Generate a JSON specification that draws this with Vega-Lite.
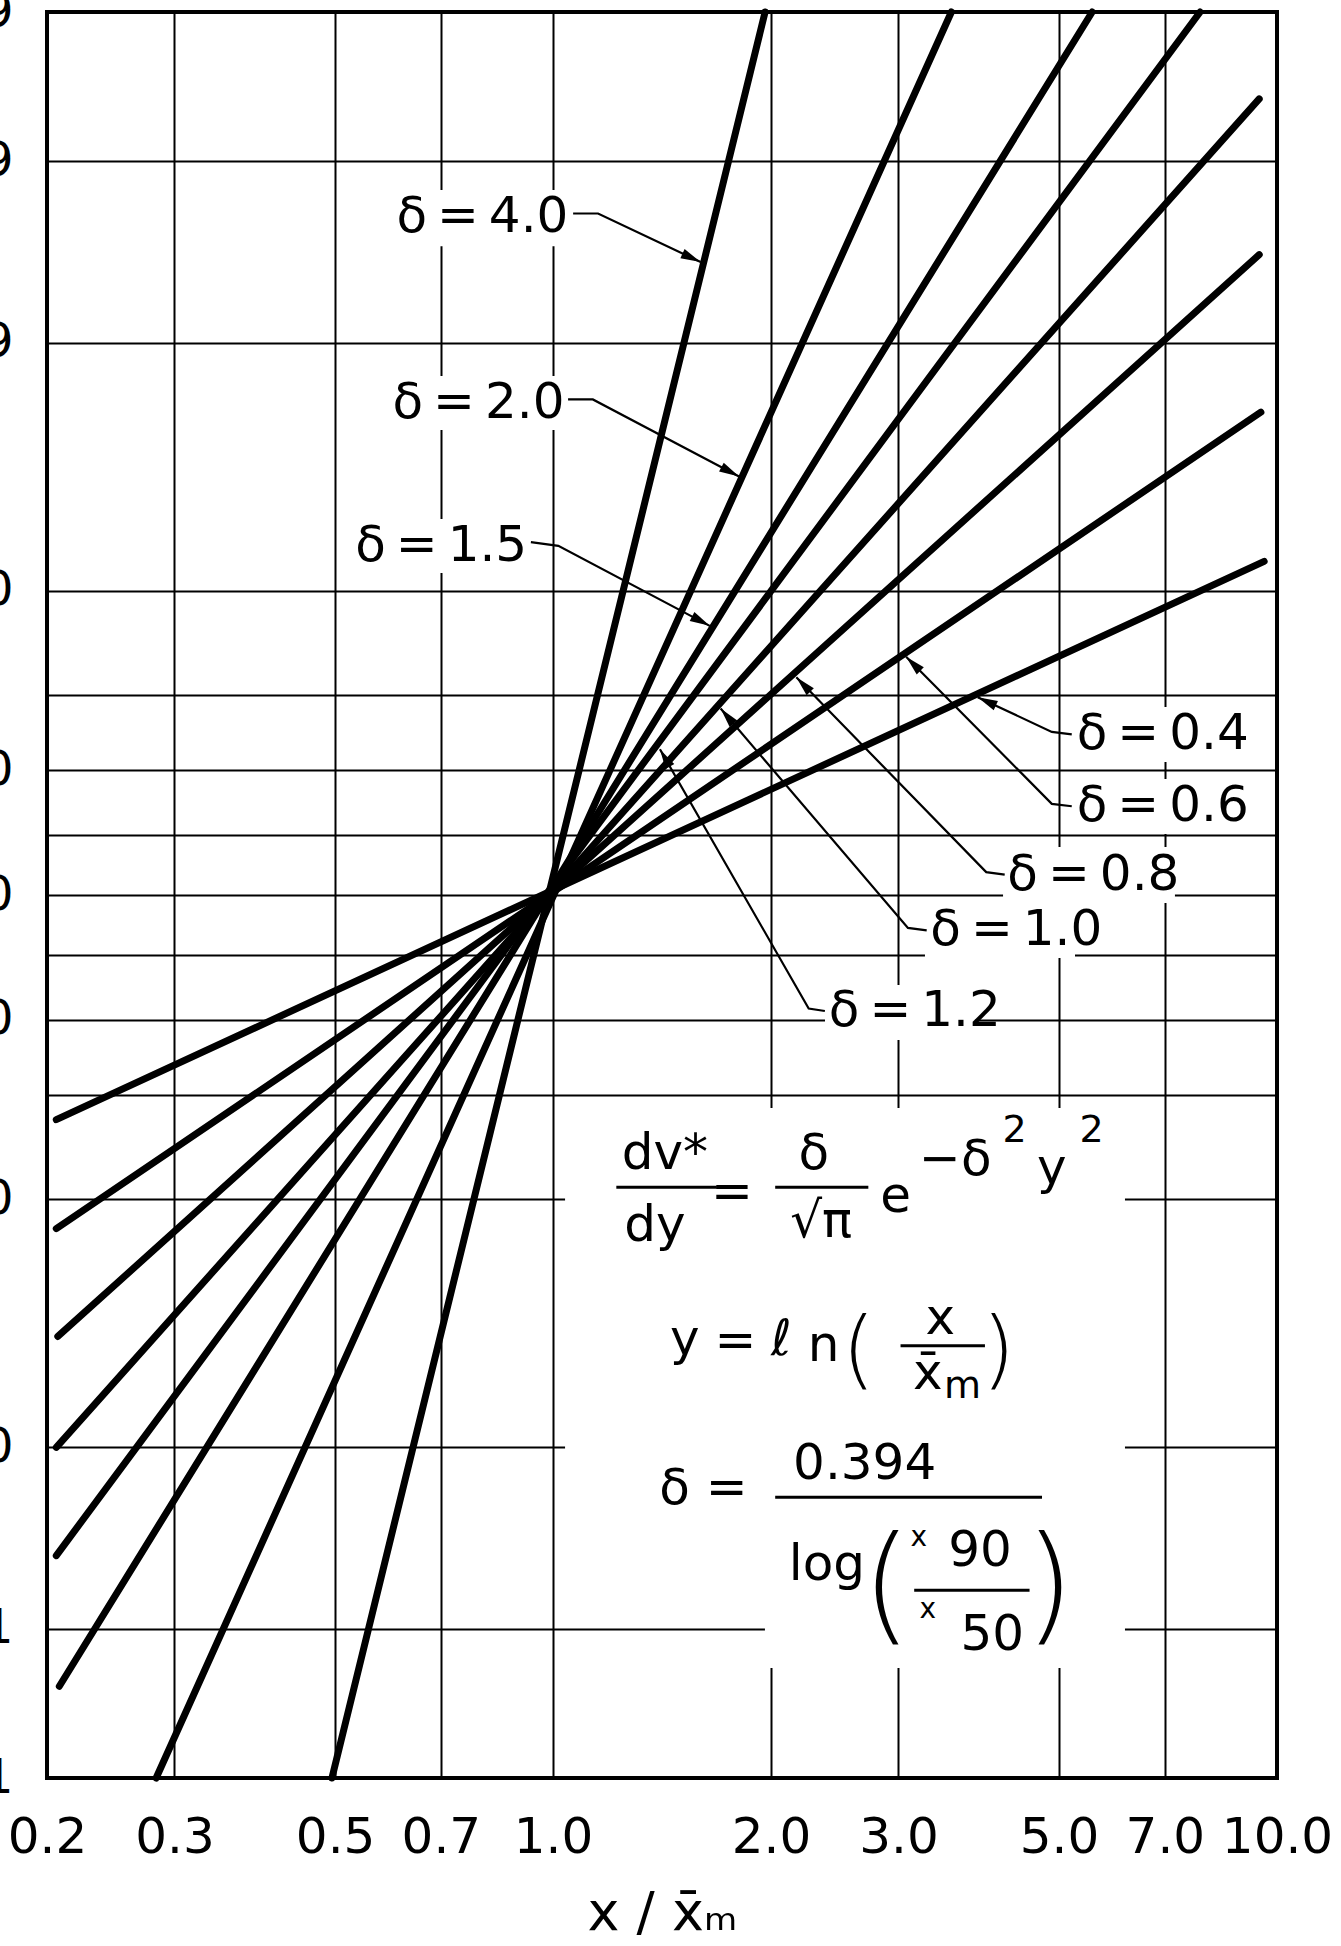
{
  "$schema": "https://vega.github.io/schema/vega-lite/v6.json",
  "width": 1230,
  "height": 1766,
  "autosize": {"type": "none"},
  "padding": {"left": 47, "top": 12, "right": 64, "bottom": 168},
  "background": "white",
  "config": {
    "view": {"stroke": "black", "strokeWidth": 4},
    "font": "DejaVu Sans",
    "text": {"font": "DejaVu Sans", "color": "black"}
  },
  "data": {
    "values": [
      {"kind": "mask", "x": 0.595, "x2": 1.056, "v": 99.851, "v2": 99.686},
      {"kind": "mask", "x": 0.595, "x2": 1.042, "v": 98.558, "v2": 97.49},
      {"kind": "mask", "x": 0.595, "x2": 0.929, "v": 94.334, "v2": 91.25},
      {"kind": "mask", "x": 5.21, "x2": 9.18, "v": 78.57, "v2": 71.23},
      {"kind": "mask", "x": 5.21, "x2": 9.18, "v": 68.74, "v2": 60.14},
      {"kind": "mask", "x": 4.184, "x2": 7.228, "v": 58.01, "v2": 48.66},
      {"kind": "mask", "x": 3.264, "x2": 5.26, "v": 48.66, "v2": 39.54},
      {"kind": "mask", "x": 2.375, "x2": 3.826, "v": 35.23, "v2": 27.07},
      {"kind": "mask", "x": 1.039, "x2": 6.166, "v": 18.49, "v2": 0.867},
      {"kind": "mask", "x": 1.962, "x2": 6.166, "v": 0.867, "v2": 0.0566},

      {"kind": "d", "g": "0.4", "x": 0.206, "v": 17.2},
      {"kind": "d", "g": "0.4", "x": 9.6, "v": 92.0},
      {"kind": "d", "g": "0.6", "x": 0.206, "v": 8.0},
      {"kind": "d", "g": "0.6", "x": 9.5, "v": 97.9},
      {"kind": "d", "g": "0.8", "x": 0.207, "v": 3.15},
      {"kind": "d", "g": "0.8", "x": 9.45, "v": 99.65},
      {"kind": "d", "g": "1.0", "x": 0.206, "v": 1.0},
      {"kind": "d", "g": "1.0", "x": 9.45, "v": 99.96},
      {"kind": "d", "g": "1.2", "x": 0.206, "v": 0.27},
      {"kind": "d", "g": "1.2", "x": 7.83, "v": 99.99},
      {"kind": "d", "g": "1.5", "x": 0.208, "v": 0.043},
      {"kind": "d", "g": "1.5", "x": 5.555, "v": 99.99},
      {"kind": "d", "g": "2.0", "x": 0.283, "v": 0.01},
      {"kind": "d", "g": "2.0", "x": 3.55, "v": 99.99},
      {"kind": "d", "g": "4.0", "x": 0.495, "v": 0.01},
      {"kind": "d", "g": "4.0", "x": 1.963, "v": 99.99},

      {"kind": "ldr", "g": "4.0", "s": 0, "x": 1.066, "v": 99.795},
      {"kind": "ldr", "g": "4.0", "s": 1, "x": 1.154, "v": 99.795},
      {"kind": "ldr", "g": "4.0", "s": 2, "x": 1.599, "v": 99.616},
      {"kind": "ldr", "g": "2.0", "s": 0, "x": 1.049, "v": 98.156},
      {"kind": "ldr", "g": "2.0", "s": 1, "x": 1.135, "v": 98.156},
      {"kind": "ldr", "g": "2.0", "s": 2, "x": 1.807, "v": 96.10},
      {"kind": "ldr", "g": "1.5", "s": 0, "x": 0.932, "v": 93.14},
      {"kind": "ldr", "g": "1.5", "s": 1, "x": 1.017, "v": 92.93},
      {"kind": "ldr", "g": "1.5", "s": 2, "x": 1.646, "v": 87.15},
      {"kind": "ldr", "g": "0.4", "s": 0, "x": 5.206, "v": 75.06},
      {"kind": "ldr", "g": "0.4", "s": 1, "x": 4.886, "v": 75.39},
      {"kind": "ldr", "g": "0.4", "s": 2, "x": 3.86, "v": 79.76},
      {"kind": "ldr", "g": "0.6", "s": 0, "x": 5.206, "v": 64.57},
      {"kind": "ldr", "g": "0.6", "s": 1, "x": 4.886, "v": 64.95},
      {"kind": "ldr", "g": "0.6", "s": 2, "x": 3.074, "v": 84.22},
      {"kind": "ldr", "g": "0.8", "s": 0, "x": 4.206, "v": 53.42},
      {"kind": "ldr", "g": "0.8", "s": 1, "x": 3.966, "v": 53.84},
      {"kind": "ldr", "g": "0.8", "s": 2, "x": 2.168, "v": 82.04},
      {"kind": "ldr", "g": "1.0", "s": 0, "x": 3.282, "v": 44.07},
      {"kind": "ldr", "g": "1.0", "s": 1, "x": 3.092, "v": 44.49},
      {"kind": "ldr", "g": "1.0", "s": 2, "x": 1.704, "v": 78.39},
      {"kind": "ldr", "g": "1.2", "s": 0, "x": 2.374, "v": 31.26},
      {"kind": "ldr", "g": "1.2", "s": 1, "x": 2.255, "v": 31.63},
      {"kind": "ldr", "g": "1.2", "s": 2, "x": 1.405, "v": 73.03},

      {"kind": "arr", "g": "4.0", "x": 1.599, "v": 99.616},
      {"kind": "arr", "g": "2.0", "x": 1.807, "v": 96.10},
      {"kind": "arr", "g": "1.5", "x": 1.646, "v": 87.15},
      {"kind": "arr", "g": "0.4", "x": 3.86, "v": 79.76},
      {"kind": "arr", "g": "0.6", "x": 3.074, "v": 84.22},
      {"kind": "arr", "g": "0.8", "x": 2.168, "v": 82.04},
      {"kind": "arr", "g": "1.0", "x": 1.704, "v": 78.39},
      {"kind": "arr", "g": "1.2", "x": 1.405, "v": 73.03},

      {"kind": "labL", "t": "δ\u2009=\u20094.0", "x": 1.050, "v": 99.785},
      {"kind": "labL", "t": "δ\u2009=\u20092.0", "x": 1.037, "v": 98.08},
      {"kind": "labL", "t": "δ\u2009=\u20091.5", "x": 0.921, "v": 92.93},
      {"kind": "labR", "t": "δ\u2009=\u20090.4", "x": 5.29, "v": 75.06},
      {"kind": "labR", "t": "δ\u2009=\u20090.6", "x": 5.29, "v": 64.57},
      {"kind": "labR", "t": "δ\u2009=\u20090.8", "x": 4.242, "v": 53.42},
      {"kind": "labR", "t": "δ\u2009=\u20091.0", "x": 3.32, "v": 44.07},
      {"kind": "labR", "t": "δ\u2009=\u20091.2", "x": 2.404, "v": 31.26},

      {"kind": "bar", "x": 1.223, "x2": 1.684, "v": 10.92},
      {"kind": "bar", "x": 2.027, "x2": 2.726, "v": 10.92},
      {"kind": "bar", "x": 3.020, "x2": 3.950, "v": 2.879},
      {"kind": "bar", "x": 2.027, "x2": 4.736, "v": 0.560},
      {"kind": "bar", "x": 3.154, "x2": 4.552, "v": 0.1704},

      {"kind": "eq", "t": "dv*", "x": 1.427, "v": 13.80},
      {"kind": "eq", "t": "dy", "x": 1.383, "v": 8.19},
      {"kind": "eq", "t": "=", "x": 1.766, "v": 10.44},
      {"kind": "eq", "t": "δ", "x": 2.292, "v": 13.80},
      {"kind": "eq", "t": "√π", "x": 2.346, "v": 8.43},
      {"kind": "eq", "t": "e", "x": 2.972, "v": 10.16},
      {"kind": "eq", "t": "−δ", "x": 3.594, "v": 13.23},
      {"kind": "eq", "t": "y", "x": 4.886, "v": 12.46},
      {"kind": "eq", "t": "y", "x": 1.520, "v": 3.055},
      {"kind": "eq", "t": "=", "x": 1.787, "v": 2.982},
      {"kind": "eq", "t": "ℓ", "x": 2.067, "v": 3.055},
      {"kind": "eq", "t": "n", "x": 2.365, "v": 2.878},
      {"kind": "eq", "t": "x", "x": 3.426, "v": 3.718},
      {"kind": "eq", "t": "x̄", "x": 3.294, "v": 2.173},
      {"kind": "eq", "t": "δ =", "x": 1.613, "v": 0.621},
      {"kind": "eq", "t": "0.394", "x": 2.694, "v": 0.830},
      {"kind": "eq", "t": "log", "x": 2.390, "v": 0.2373},
      {"kind": "eq", "t": "90", "x": 3.888, "v": 0.2881},
      {"kind": "eq", "t": "50", "x": 4.044, "v": 0.0915},
      {"kind": "eqs", "t": "2", "x": 4.342, "v": 15.97},
      {"kind": "eqs", "t": "2", "x": 5.544, "v": 15.97},
      {"kind": "eqs", "t": "m", "x": 3.678, "v": 1.915},
      {"kind": "eqsm", "t": "x", "x": 3.200, "v": 0.3372},
      {"kind": "eqsm", "t": "x", "x": 3.294, "v": 0.1298},
      {"kind": "eqm", "t": "(", "x": 2.642, "v": 2.711},
      {"kind": "eqm", "t": ")", "x": 4.125, "v": 2.711},
      {"kind": "eqp", "t": "(", "x": 2.890, "v": 0.1704},
      {"kind": "eqp", "t": ")", "x": 4.850, "v": 0.1704}
    ]
  },
  "transform": [
    {"calculate": "quantileNormal(datum.v / 100)", "as": "z"},
    {"calculate": "datum.v2 != null ? quantileNormal(datum.v2 / 100) : null", "as": "z2"}
  ],
  "encoding": {
    "x": {
      "field": "x",
      "type": "quantitative",
      "scale": {"type": "log", "domain": [0.2, 10], "nice": false},
      "axis": {
        "values": [0.2, 0.3, 0.5, 0.7, 1, 2, 3, 5, 7, 10],
        "format": ".1f",
        "grid": true,
        "gridColor": "black",
        "gridWidth": 2,
        "gridOpacity": 1,
        "ticks": false,
        "tickSize": 0,
        "domain": false,
        "labelFont": "DejaVu Sans",
        "labelFontSize": 50,
        "labelColor": "black",
        "labelPadding": 34,
        "labelFlush": false,
        "labelOverlap": false,
        "labelBound": false,
        "title": "x / x̄ₘ",
        "titleFont": "DejaVu Sans",
        "titleFontSize": 54,
        "titleFontWeight": "normal",
        "titleColor": "black",
        "titlePadding": 24
      }
    },
    "y": {
      "field": "z",
      "type": "quantitative",
      "scale": {"domain": [-3.719, 3.719], "nice": false, "zero": false},
      "axis": {
        "values": [3.719, 3.0902, 2.3263, 1.2816, 0.8416, 0.5244, 0.2533, 0, -0.2533, -0.5244, -0.8416, -1.2816, -2.3263, -3.0902, -3.719],
        "labelExpr": "datum.value > 3.5 ? '99.99' : datum.value > 3 ? '99.9' : datum.value > 2 ? '99' : datum.value > 1 ? '90' : datum.value > 0.7 ? '' : datum.value > 0.4 ? '70' : datum.value > 0.1 ? '' : datum.value > -0.1 ? '50' : datum.value > -0.4 ? '' : datum.value > -0.7 ? '30' : datum.value > -1 ? '' : datum.value > -2 ? '10' : datum.value > -3 ? '1.0' : datum.value > -3.5 ? '0.1' : '0.01'",
        "grid": true,
        "gridColor": "black",
        "gridWidth": 2,
        "gridOpacity": 1,
        "ticks": false,
        "tickSize": 0,
        "domain": false,
        "labelFont": "DejaVu Sans",
        "labelFontSize": 48,
        "labelColor": "black",
        "labelPadding": 34,
        "labelAlign": "right",
        "labelBaseline": "middle",
        "labelFlush": false,
        "labelOverlap": false,
        "labelBound": false,
        "title": null
      }
    }
  },
  "layer": [
    {
      "transform": [{"filter": "datum.kind === 'mask'"}],
      "mark": {"type": "rect", "fill": "white", "strokeWidth": 0},
      "encoding": {"x2": {"field": "x2"}, "y2": {"field": "z2"}}
    },
    {
      "transform": [{"filter": "datum.kind === 'd'"}],
      "mark": {"type": "line", "color": "black", "strokeWidth": 7, "strokeCap": "round"},
      "encoding": {"detail": {"field": "g"}}
    },
    {
      "transform": [{"filter": "datum.kind === 'ldr'"}],
      "mark": {"type": "line", "color": "black", "strokeWidth": 2.2},
      "encoding": {"detail": {"field": "g"}, "order": {"field": "s", "type": "quantitative"}}
    },
    {
      "transform": [{"filter": "datum.kind === 'arr' && datum.g === '4.0'"}],
      "mark": {"type": "point", "shape": "M0,0L-2,-0.5L-2,0.5Z", "size": 400, "filled": true, "color": "black", "opacity": 1, "strokeWidth": 0, "angle": 25}
    },
    {
      "transform": [{"filter": "datum.kind === 'arr' && datum.g === '2.0'"}],
      "mark": {"type": "point", "shape": "M0,0L-2,-0.5L-2,0.5Z", "size": 400, "filled": true, "color": "black", "opacity": 1, "strokeWidth": 0, "angle": 28}
    },
    {
      "transform": [{"filter": "datum.kind === 'arr' && datum.g === '1.5'"}],
      "mark": {"type": "point", "shape": "M0,0L-2,-0.5L-2,0.5Z", "size": 400, "filled": true, "color": "black", "opacity": 1, "strokeWidth": 0, "angle": 28}
    },
    {
      "transform": [{"filter": "datum.kind === 'arr' && datum.g === '0.4'"}],
      "mark": {"type": "point", "shape": "M0,0L-2,-0.5L-2,0.5Z", "size": 400, "filled": true, "color": "black", "opacity": 1, "strokeWidth": 0, "angle": 205}
    },
    {
      "transform": [{"filter": "datum.kind === 'arr' && datum.g === '0.6'"}],
      "mark": {"type": "point", "shape": "M0,0L-2,-0.5L-2,0.5Z", "size": 400, "filled": true, "color": "black", "opacity": 1, "strokeWidth": 0, "angle": 225}
    },
    {
      "transform": [{"filter": "datum.kind === 'arr' && datum.g === '0.8'"}],
      "mark": {"type": "point", "shape": "M0,0L-2,-0.5L-2,0.5Z", "size": 400, "filled": true, "color": "black", "opacity": 1, "strokeWidth": 0, "angle": 226}
    },
    {
      "transform": [{"filter": "datum.kind === 'arr' && datum.g === '1.0'"}],
      "mark": {"type": "point", "shape": "M0,0L-2,-0.5L-2,0.5Z", "size": 400, "filled": true, "color": "black", "opacity": 1, "strokeWidth": 0, "angle": 230}
    },
    {
      "transform": [{"filter": "datum.kind === 'arr' && datum.g === '1.2'"}],
      "mark": {"type": "point", "shape": "M0,0L-2,-0.5L-2,0.5Z", "size": 400, "filled": true, "color": "black", "opacity": 1, "strokeWidth": 0, "angle": 240}
    },
    {
      "transform": [{"filter": "datum.kind === 'bar'"}],
      "mark": {"type": "rule", "color": "black", "strokeWidth": 3},
      "encoding": {"x2": {"field": "x2"}}
    },
    {
      "transform": [{"filter": "datum.kind === 'labL'"}],
      "mark": {"type": "text", "align": "right", "baseline": "middle", "fontSize": 50},
      "encoding": {"text": {"field": "t"}}
    },
    {
      "transform": [{"filter": "datum.kind === 'labR'"}],
      "mark": {"type": "text", "align": "left", "baseline": "middle", "fontSize": 50},
      "encoding": {"text": {"field": "t"}}
    },
    {
      "transform": [{"filter": "datum.kind === 'eq'"}],
      "mark": {"type": "text", "align": "center", "baseline": "middle", "fontSize": 50},
      "encoding": {"text": {"field": "t"}}
    },
    {
      "transform": [{"filter": "datum.kind === 'eqs'"}],
      "mark": {"type": "text", "align": "center", "baseline": "middle", "fontSize": 38},
      "encoding": {"text": {"field": "t"}}
    },
    {
      "transform": [{"filter": "datum.kind === 'eqsm'"}],
      "mark": {"type": "text", "align": "center", "baseline": "middle", "fontSize": 28},
      "encoding": {"text": {"field": "t"}}
    },
    {
      "transform": [{"filter": "datum.kind === 'eqm'"}],
      "mark": {"type": "text", "align": "center", "baseline": "middle", "fontSize": 86, "fontWeight": 200},
      "encoding": {"text": {"field": "t"}}
    },
    {
      "transform": [{"filter": "datum.kind === 'eqp'"}],
      "mark": {"type": "text", "align": "center", "baseline": "middle", "fontSize": 128, "fontWeight": 200},
      "encoding": {"text": {"field": "t"}}
    }
  ]
}
